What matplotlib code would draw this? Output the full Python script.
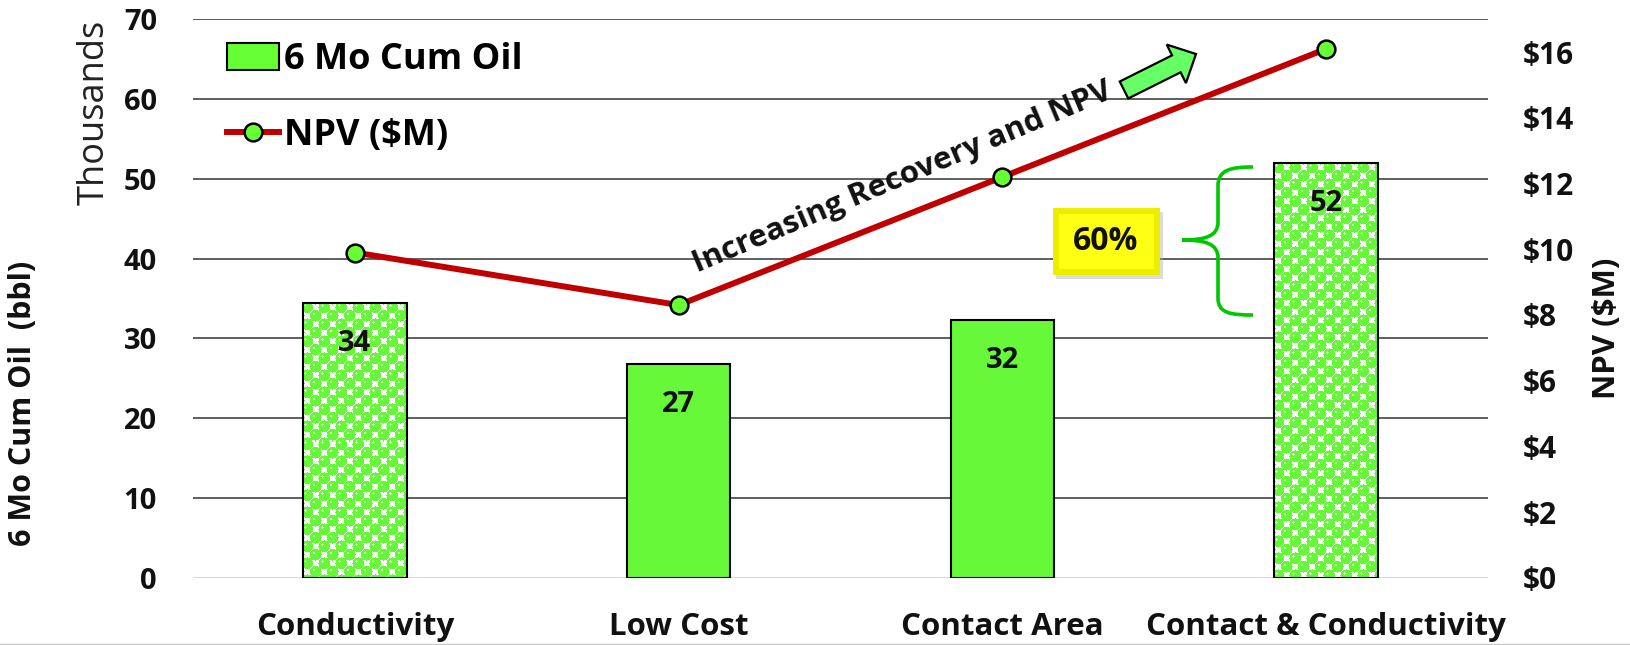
import numpy as np
import matplotlib
matplotlib.use("Agg")
import matplotlib.pyplot as plt
from matplotlib.patches import Patch, Rectangle, FancyArrow, PathPatch
from matplotlib.lines import Line2D
from matplotlib.path import Path
from matplotlib.ticker import FuncFormatter

# ---- data ----
categories = ["Conductivity", "Low Cost", "Contact Area", "Contact & Conductivity"]
cum_oil_thousands = [34.4, 26.8, 32.3, 52.0]      # 6-month cumulative oil, thousand bbl
npv_musd = [9.9, 8.3, 12.2, 16.1]                  # NPV, $M
patterned = [True, False, False, True]
left_ticks = [0, 10, 20, 30, 40, 50, 60, 70]
right_ticks = [0, 2, 4, 6, 8, 10, 12, 14, 16]
uplift_label = "60%"
trend_label = "Increasing Recovery and NPV"

# ---- figure geometry (pixels) ----
W, H, DPI = 1631, 645, 100
plt.rcParams["font.family"] = ["Open Sans", "DejaVu Sans"]
plt.rcParams["font.weight"] = "bold"

GREEN = "#68F83A"
DOT_GREEN = (0.40, 0.97, 0.22)
RED = "#C00000"
INK = "#111111"

fig = plt.figure(figsize=(W / DPI, H / DPI), dpi=DPI)
fig.patch.set_facecolor("white")


def fx(x):
    return x / W


def fy(y):
    return 1 - y / H


def inch(x, y):
    return (x / DPI, (H - y) / DPI)


ax = fig.add_axes([fx(193), fy(577.7), fx(1488) - fx(193), fy(19.3) - fy(577.7)])
ax2 = ax.twinx()

x = np.arange(len(categories))
bar_w = 0.32
ax.set_xlim(-0.5, len(categories) - 0.5)
ax.set_ylim(0, 70)
ax2.set_ylim(0, 17)

# grid
ax.set_axisbelow(True)
ax.set_yticks(left_ticks)
ax.grid(axis="y", color="#333333", lw=1.1)
ax.get_ygridlines()[0].set_color("#d9d9d9")
ax.get_ygridlines()[0].set_linewidth(2.2)


def dot_texture(w_px, h_px, cell=8.5, radius=0.68):
    yy, xx = np.mgrid[0:h_px, 0:w_px] + 0.5
    ci = np.floor(xx / cell)
    cj = np.floor(yy / cell)
    dmin = np.full(xx.shape, np.inf)
    hmin = np.full(xx.shape, np.inf)
    for di, dj in [(0, 0), (1, 0), (-1, 0), (0, 1), (0, -1)]:
        ni, nj = ci + di, cj + dj
        on = ((ni + nj) % 2 == 0)
        cx = (ni + 0.5) * cell
        cy = (nj + 0.5) * cell
        d = np.hypot(xx - cx, yy - cy)
        d[~on] = np.inf
        dmin = np.minimum(dmin, d)
        h = np.hypot(xx - cx + cell * 0.2, yy - cy + cell * 0.2)
        h[~on] = np.inf
        hmin = np.minimum(hmin, h)
    img = np.ones((h_px, w_px, 3)) * 0.98
    disc = dmin <= cell * radius
    img[disc] = DOT_GREEN
    img[disc & (hmin <= cell * 0.15)] = (0.80, 1.0, 0.72)
    return img


# bars
for xi, v, pat in zip(x, cum_oil_thousands, patterned):
    if pat:
        outline = ax.bar(xi, v, bar_w, facecolor="none", edgecolor="black",
                         linewidth=1.5, zorder=3)[0]
        p0 = ax.transData.transform((xi - bar_w / 2, 0))
        p1 = ax.transData.transform((xi + bar_w / 2, v))
        tex = dot_texture(int(round(p1[0] - p0[0])), int(round(p1[1] - p0[1])))
        im = ax.imshow(tex, extent=(xi - bar_w / 2, xi + bar_w / 2, 0, v),
                       aspect="auto", interpolation="nearest", zorder=2.5)
        im.set_clip_path(outline)
    else:
        ax.bar(xi, v, bar_w, color=GREEN, edgecolor="black", linewidth=1.5, zorder=3)
    ax.annotate(f"{v:.0f}", (xi, v), xytext=(0, -29), textcoords="offset points",
                ha="center", va="center", fontsize=21, fontweight="bold",
                color=INK, zorder=4)

ax.set_xlim(-0.5, len(categories) - 0.5)
ax.set_ylim(0, 70)

# NPV line
ax2.plot(x, npv_musd, color=RED, lw=4.3, marker="o", ms=12.8, mfc="#66FF33",
         mec="black", mew=1.8, zorder=5, solid_capstyle="butt")

# axes styling
for a in (ax, ax2):
    for s in a.spines.values():
        s.set_visible(False)
ax.set_xticks(x, categories)
ax.tick_params(axis="x", length=0, pad=25, labelsize=22.5, labelcolor=INK)
ax.tick_params(axis="y", length=0, pad=26, labelsize=21, labelcolor=INK)
ax2.set_yticks(right_ticks)
ax2.yaxis.set_major_formatter(FuncFormatter(lambda v, p: f"${v:.0f}"))
ax2.tick_params(axis="y", length=0, pad=25, labelsize=21.5, labelcolor=INK)

# axis titles
fig.text(fx(23), fy(403), "6 Mo Cum Oil  (bbl)", rotation=90, ha="center",
         va="center", fontsize=22, fontweight="bold", color=INK)
fig.text(fx(95), fy(112), "Thousands", rotation=90, ha="center", va="center",
         fontsize=26, fontweight="normal", color="#222222")
fig.text(fx(1607), fy(328), "NPV ($M)", rotation=90, ha="center", va="center",
         fontsize=22.5, fontweight="bold", color=INK)

# legend
handles = [Patch(facecolor="#66FF33", edgecolor="black", linewidth=1.5),
           Line2D([], [], color=RED, lw=4.3, marker="o", ms=12.8, mfc="#66FF33",
                  mec="black", mew=1.8)]
fig.legend(handles, ["6 Mo Cum Oil", "NPV ($M)"], loc="upper left",
           bbox_to_anchor=(fx(227), fy(42)), bbox_transform=fig.transFigure,
           frameon=False, handlelength=1.45, handleheight=0.8,
           handletextpad=0.13, labelspacing=1.12, borderpad=0, borderaxespad=0,
           prop={"weight": "bold", "size": 26})

# trend annotation text and arrow
fig.text(fx(902), fy(178), trend_label, rotation=22.8, rotation_mode="anchor",
         ha="center", va="center", fontsize=22.5, fontweight="bold", color=INK)
tx, ty = inch(1124, 90)
fig.add_artist(FancyArrow(tx, ty, 0.72, 0.36, width=0.19, head_width=0.43,
                          head_length=0.22, length_includes_head=True,
                          facecolor="#66FF66", edgecolor="black", linewidth=1.6,
                          transform=fig.dpi_scale_trans))

# uplift callout box
bx0, by0 = inch(1053, 275)
bw, bh = 107 / DPI, 67 / DPI
fig.add_artist(Rectangle((bx0 + 0.03, by0 - 0.035), bw, bh, facecolor="#a8a8a8",
                         alpha=0.4, edgecolor="none", transform=fig.dpi_scale_trans))
fig.add_artist(Rectangle((bx0, by0), bw, bh, facecolor="#EDED00", edgecolor="none",
                         transform=fig.dpi_scale_trans))
fig.add_artist(Rectangle((bx0 + 0.06, by0 + 0.06), bw - 0.12, bh - 0.12,
                         facecolor="#FFFF14", edgecolor="none",
                         transform=fig.dpi_scale_trans))
cx, cy = inch(1106, 242)
fig.text(cx / (W / DPI), cy / (H / DPI), uplift_label, ha="center", va="center",
         fontsize=23, fontweight="bold", color=INK)

# curly brace spanning the uplift
brace_px = [(1253, 167), (1230, 167), (1218, 170), (1218, 186),
            (1218, 222),
            (1218, 236), (1206, 240), (1182, 240),
            (1206, 240), (1218, 244), (1218, 258),
            (1218, 298),
            (1218, 313), (1230, 315), (1253, 315)]
codes = [Path.MOVETO, Path.CURVE4, Path.CURVE4, Path.CURVE4,
         Path.LINETO,
         Path.CURVE4, Path.CURVE4, Path.CURVE4,
         Path.CURVE4, Path.CURVE4, Path.CURVE4,
         Path.LINETO,
         Path.CURVE4, Path.CURVE4, Path.CURVE4]
fig.add_artist(PathPatch(Path([inch(*p) for p in brace_px], codes), fill=False,
                         edgecolor="#00C800", linewidth=2.6,
                         transform=fig.dpi_scale_trans))

# slide border at the bottom
fig.add_artist(Line2D([0, 1], [fy(643.5), fy(643.5)], color="#c8c8c8", lw=1,
                      transform=fig.transFigure))

fig.savefig("out.png", dpi=DPI, facecolor="white")
